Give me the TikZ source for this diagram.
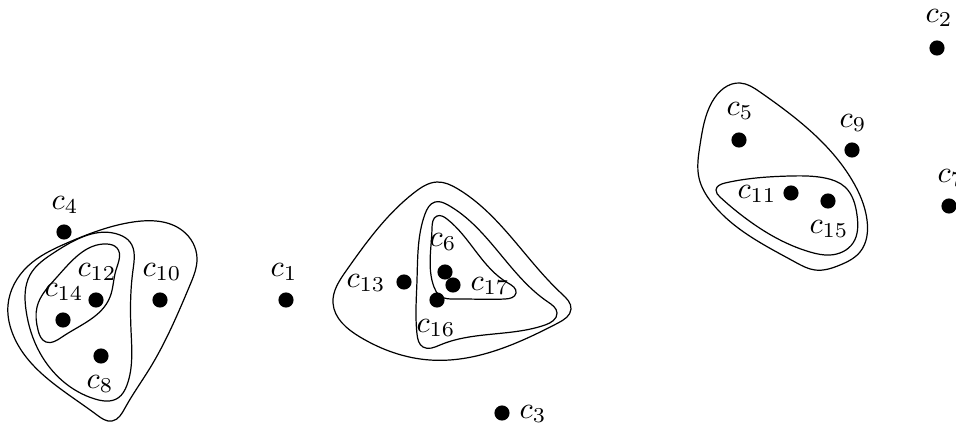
\documentclass[tikz,border=0pt]{standalone}
\usetikzlibrary{hobby}
\begin{document}
\begin{tikzpicture}[x=0.33pt,y=-0.33pt,
  dot/.style={circle,fill=black,inner sep=0pt,minimum size=5pt},
  lab/.style={inner sep=0pt},
  hull/.style={draw=black,line width=0.4pt,use Hobby shortcut,closed=true}]
\useasboundingbox (0,0) rectangle (956,425);
% points
\node[dot] (d1) at (286,300) {};  \node[lab] (l1) at (284,272) {$c_1$};
\node[dot] (d2) at (937,48) {};   \node[lab] (l2) at (939,18) {$c_2$};
\node[dot] (d3) at (502,413) {};  \node[lab] (l3) at (533,414) {$c_3$};
\node[dot] (d4) at (64,232) {};   \node[lab] (l4) at (65,205) {$c_4$};
\node[dot] (d5) at (739,140) {};  \node[lab] (l5) at (740,111) {$c_5$};
\node[dot] (d6) at (445,272) {};  \node[lab] (l6) at (443,242) {$c_6$};
\node[dot] (d7) at (949,206) {};  \node[lab] (l7) at (951,178) {$c_7$};
\node[dot] (d8) at (101,356) {};  \node[lab] (l8) at (100,384) {$c_8$};
\node[dot] (d9) at (852,150) {};  \node[lab] (l9) at (853,123) {$c_9$};
\node[dot] (d10) at (160,300) {}; \node[lab] (l10) at (162,272) {$c_{10}$};
\node[dot] (d11) at (791,193) {}; \node[lab] (l11) at (757,194) {$c_{11}$};
\node[dot] (d12) at (96,300) {};  \node[lab] (l12) at (97,272) {$c_{12}$};
\node[dot] (d13) at (404,282) {}; \node[lab] (l13) at (366,283) {$c_{13}$};
\node[dot] (d14) at (63,320) {};  \node[lab] (l14) at (64,292) {$c_{14}$};
\node[dot] (d15) at (828,201) {}; \node[lab] (l15) at (829,229) {$c_{15}$};
\node[dot] (d16) at (437,300) {}; \node[lab] (l16) at (436,328) {$c_{16}$};
\node[dot] (d17) at (453,285) {}; \node[lab] (l17) at (490,286) {$c_{17}$};
% left group
\draw[hull] (12,332) .. (8,305) .. (28,266) .. (67,243) .. (133,222) .. (183,231) .. (197,258) .. (190,285) .. (150,368) .. (125,408) .. (112,421) .. (97,415);
\draw[hull] (26,310) .. (30,275) .. (55,252) .. (120,235) .. (130,242) .. (133,270) .. (131,330) .. (127,385) .. (118,398) .. (95,399) .. (40,353);
\draw[hull] (38,330) .. (37,307) .. (57,277) .. (107,244) .. (117,248) .. (116,270) .. (110,297) .. (62,337) .. (46,342);
% middle group
\draw[hull] (333,303) .. (346,271) .. (415,192) .. (437,182) .. (458,189) .. (562,294) .. (571,309) .. (558,323) .. (430,360) .. (360,337);
\draw[hull] (425,214) .. (435,202) .. (448,205) .. (548,302) .. (557,313) .. (545,325) .. (440,345) .. (423,347) .. (417,334) .. (417,280);
\draw[hull] (432,228) .. (437,216) .. (447,219) .. (508,283) .. (516,293) .. (505,299) .. (455,299) .. (440,296) .. (434,287);
% right group
\draw[hull] (712,102) .. (740,83) .. (760,92) .. (852,180) .. (867,220) .. (860,252) .. (840,265) .. (815,270) .. (795,262) .. (712,203) .. (699,178) .. (700,145);
\draw[hull] (725,183) .. (790,176) .. (825,178) .. (845,187) .. (857,215) .. (853,243) .. (830,255) .. (810,252) .. (740,214) .. (720,197) .. (716,190);
\end{tikzpicture}
\end{document}
